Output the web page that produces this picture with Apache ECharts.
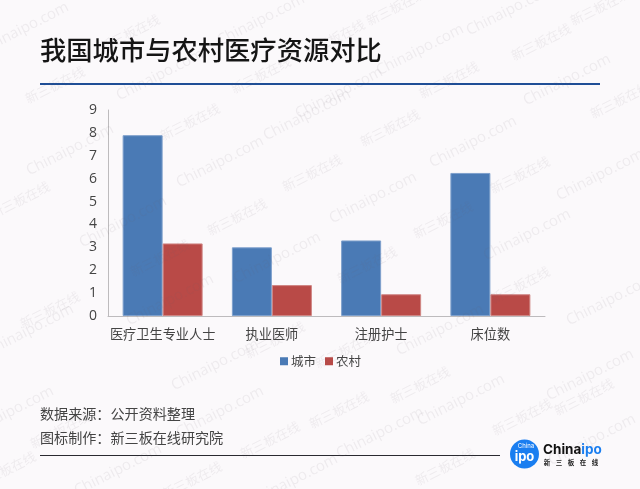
<!DOCTYPE html>
<html>
<head>
<meta charset="UTF-8">
<title>我国城市与农村医疗资源对比</title>
<script type="text/javascript" src="https://cdn.jsdelivr.net/npm/echarts@6/dist/echarts.min.js"></script>
<style type="text/css">
	html,body{margin:0;padding:0;background:#fbf9fb;}
	#main{width:640px;height:489px;}
</style>
</head>
<body>
<div id="main"></div>
<script type="text/javascript">
	var categories = ['医疗卫生专业人士','执业医师','注册护士','床位数'];
	var cityValues = [7.9,3.0,3.3,6.25];
	var ruralValues = [3.17,1.35,0.95,0.95];
	var yTicks = [0,1,2,3,4,5,6,7,8,9];

	// 水印位置
	var markEn = [[25,28],[261,20],[420,50],[510,10],[70,150],[160,75],[339,93],[567,80],[220,162],[307,115],[123,222],[277,258],[473,142],[373,198],[527,235],[10,412],[220,412],[461,400],[380,433],[592,440],[118,470],[294,480],[30,330],[170,300],[600,175],[610,300],[440,330],[590,375],[215,365]];
	var markCn = [[130,33],[335,38],[396,7],[541,42],[600,7],[261,75],[55,85],[449,80],[190,122],[312,173],[237,217],[160,258],[390,128],[443,220],[367,265],[520,175],[20,200],[50,310],[275,340],[520,285],[345,350],[420,385],[339,410],[270,440],[522,417],[445,467],[584,397],[60,430],[6,470],[192,480],[620,100]];

	var graphics = [];
	function addText(x,y,text,size,color,extra){
		var style = {x:0,y:0,text:text,fontSize:size,fill:color,fontFamily:'Noto Sans CJK SC',verticalAlign:'middle'};
		for(var k in extra){ style[k] = extra[k]; }
		graphics.push({type:'text',x:x,y:y,z:2,silent:true,style:style});
	}

	addText(40,50,'我国城市与农村医疗资源对比',26.3,'#151515',{fontWeight:500});
	graphics.push({type:'rect',shape:{x:40,y:83,width:560,height:2},style:{fill:'#1f4e96'}});
	addText(40,414,'数据来源：公开资料整理',14.1,'#444444');
	addText(40,438,'图标制作：新三板在线研究院',14.1,'#444444');
	graphics.push({type:'rect',shape:{x:40,y:455,width:460,height:1},style:{fill:'#2a2a30'}});

	// logo
	graphics.push({type:'circle',shape:{cx:524.5,cy:454,r:14.5},style:{fill:'#1a7ef0'}});
	addText(526,446,'China',6,'#ffffff',{align:'center',fontFamily:'Inter'});
	addText(524.5,457,'ipo',13,'#ffffff',{align:'center',fontFamily:'Inter',fontWeight:700});
	graphics.push({type:'text',x:543,y:450,style:{text:'{a|China}{b|ipo}',verticalAlign:'middle',rich:{
		a:{fontSize:13.5,fontWeight:700,fill:'#111111',fontFamily:'Inter'},
		b:{fontSize:13.5,fontWeight:700,fill:'#1a7ef0',fontFamily:'Inter'}
	}}});
	var logoCn = ['新','三','板','在','线'];
	for(var n = 0;n<logoCn.length;n++){
		addText(547+n*12,463,logoCn[n],6.5,'#222222',{align:'center',fontWeight:700});
	}

	// 水印
	for(var i = 0;i<markEn.length;i++){
		graphics.push({type:'text',x:markEn[i][0],y:markEn[i][1],rotation:0.47,z:10,silent:true,style:{text:'Chinaipo.com',fontSize:15,fontFamily:'Open Sans',fill:'rgba(110,100,110,0.09)',align:'center',verticalAlign:'middle'}});
	}
	for(var j = 0;j<markCn.length;j++){
		graphics.push({type:'text',x:markCn[j][0],y:markCn[j][1],rotation:0.47,z:10,silent:true,style:{text:'新三板在线',fontSize:13,fontFamily:'Noto Sans CJK SC',fill:'rgba(110,100,110,0.09)',align:'center',verticalAlign:'middle'}});
	}

	var myChart = echarts.init(document.getElementById('main'));
	var option = {
		backgroundColor:'#fbf9fb',
		animation:false,
		textStyle:{fontFamily:'Noto Sans CJK SC'},
		legend:{
			left:275,top:350,
			itemWidth:8,itemHeight:8,itemGap:9,
			icon:'rect',
			itemStyle:{borderWidth:0},
			textStyle:{fontSize:12.5,color:'#444444',padding:[0,0,0,-2]},
			data:['城市','农村']
		},
		grid:{left:108,right:95,top:110,bottom:173},
		xAxis:{
			type:'category',
			data:categories,
			axisLine:{lineStyle:{color:'#bdbbbd',width:1}},
			axisTick:{show:false},
			axisLabel:{fontSize:13.2,color:'#444444',margin:11,interval:0}
		},
		yAxis:{
			type:'value',
			min:yTicks[0],max:yTicks[yTicks.length-1],interval:1,
			axisLine:{show:true,lineStyle:{color:'#bdbbbd',width:1}},
			axisTick:{show:false},
			splitLine:{show:false},
			axisLabel:{fontSize:14,color:'#444444',margin:11,fontFamily:'Open Sans'}
		},
		series:[
			{name:'城市',type:'bar',data:cityValues,barWidth:40,barGap:0,itemStyle:{color:'#4a7ab5',borderColor:'#7ea0cc',borderWidth:1}},
			{name:'农村',type:'bar',data:ruralValues,barWidth:40,itemStyle:{color:'#b94a47',borderColor:'#cf8583',borderWidth:1}}
		],
		graphic:{elements:graphics}
	};
	myChart.setOption(option);
</script>
</body>
</html>
